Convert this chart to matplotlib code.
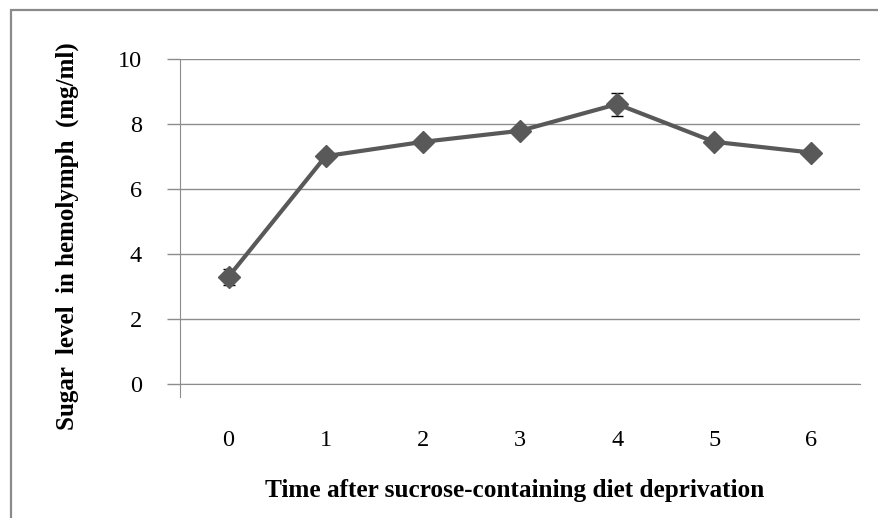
import numpy as np
import matplotlib
matplotlib.use('Agg')
import matplotlib.pyplot as plt
from matplotlib.patches import Rectangle

# Hemolymph sugar readings after removing the sucrose diet
time_points = ['0', '1', '2', '3', '4', '5', '6']
sugar_level = [3.31, 7.02, 7.46, 7.80, 8.62, 7.46, 7.13]
sugar_err = [0.25, 0.12, 0.10, 0.10, 0.35, 0.10, 0.10]
y_ticks = [0, 2, 4, 6, 8, 10]

plt.rcParams['font.family'] = ['Liberation Serif', 'DejaVu Serif']

fig = plt.figure(figsize=(8.79, 5.18), dpi=100)
ax = fig.add_axes([180 / 879, 1 - 384.3 / 518, 680 / 879, 325 / 518])

x = np.arange(len(time_points))
ax.errorbar(x, sugar_level, yerr=sugar_err, color='#595959', lw=3,
            marker='D', ms=11, mfc='#595959', mec='#595959',
            ecolor='black', elinewidth=1, capsize=4, capthick=1, zorder=3)

ax.set_xlim(-0.5, len(time_points) - 0.5)
ax.set_ylim(0, 10)
ax.set_yticks(y_ticks)
ax.set_yticklabels([str(v) for v in y_ticks], fontsize=17.5)
ax.set_xticks(x)
ax.set_xticklabels(time_points, fontsize=17.5)

ax.grid(axis='y', color='#8c8c8c', lw=1)
ax.set_axisbelow(True)
for side in ['top', 'right']:
    ax.spines[side].set_visible(False)
ax.spines['bottom'].set_color('#8c8c8c')
ax.spines['left'].set_color('#8c8c8c')
ax.spines['left'].set_bounds(-0.4, 10)

ax.tick_params(axis='y', length=9.5, width=1, color='#8c8c8c', pad=18)
ax.tick_params(axis='x', length=0, pad=33)

fig.text(515 / 879, 1 - 490 / 518, 'Time after sucrose-containing diet deprivation',
         ha='center', va='center', fontsize=18.2, fontweight='bold')
fig.text(67 / 879, 1 - 236 / 518, 'Sugar  level  in hemolymph  (mg/ml)',
         ha='center', va='center', rotation=90, fontsize=18, fontweight='bold')

# chart area border
fig.patches.append(Rectangle((11 / 879, -0.1), 1.2, 1 - 10 / 518 + 0.1,
                             transform=fig.transFigure, fill=False,
                             ec='#8a8a8a', lw=1.6, clip_on=False))

fig.savefig('out.png', dpi=100)
